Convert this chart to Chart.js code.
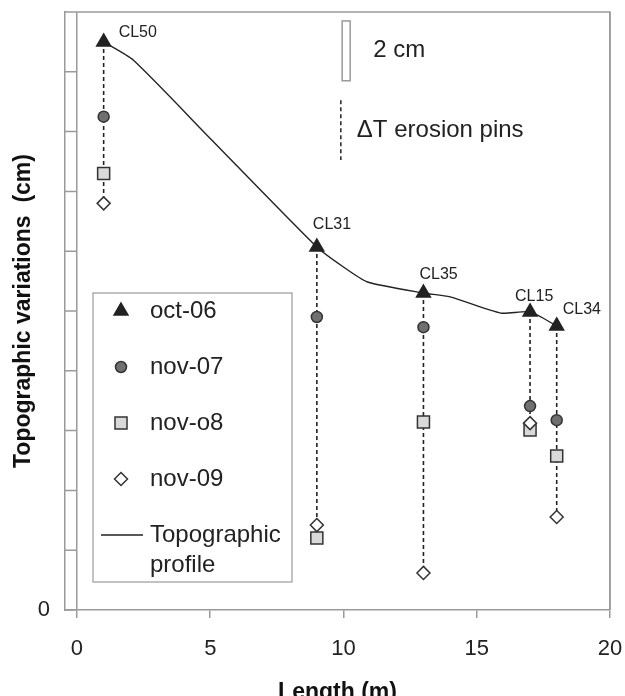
<!DOCTYPE html>
<html>
<head>
<meta charset="utf-8">
<script src="https://cdn.jsdelivr.net/npm/chart.js@4/dist/chart.umd.min.js"></script>
<style>
  html, body { margin: 0; padding: 0; background: #fff; overflow: hidden; }
  #wrap { position: relative; width: 625px; height: 708px; }
</style>
</head>
<body>
<div id="wrap"><canvas id="topo_chart"></canvas></div>
<script>
// stations along the transect
const stations = ['CL50', 'CL31', 'CL35', 'CL15', 'CL34'];
const lengths = [1, 9, 13, 17, 18];

// pin readings (cm)
const oct06 = [19.0, 12.14, 10.6, 9.97, 9.5];
const nov07 = [16.5, 9.8, 9.46, 6.82, 6.35];
const nov08 = [14.6, 2.41, 6.29, 6.02, 5.15];
const nov09 = [13.6, 2.84, 1.24, 6.25, 3.11];

// topographic profile
const profileX = [1, 2.1, 5, 9, 10, 10.9, 13, 14, 15.9, 17, 18];
const profileY = [19.0, 18.4, 15.77, 12.14, 11.47, 10.97, 10.6, 10.47, 9.93, 9.97, 9.5];

// axis ticks
const xTicks = [0, 5, 10, 15, 20];
const yTicks = [0, 2, 4, 6, 8, 10, 12, 14, 16, 18, 20];
const yTickLabels = ['0', '', '', '', '', '', '', '', '', '', ''];

const FONT = "'Liberation Sans', Arial, sans-serif";
const INK = '#222';
const AXIS = '#9a9a9a';

const pts = (xs, ys) => xs.map((x, i) => ({ x: x, y: ys[i] }));

// dashed pins: from oct-06 down to nov-09 reading
const pinData = [];
lengths.forEach((x, i) => {
    pinData.push({ x: x, y: oct06[i] }, { x: x, y: nov09[i] }, { x: x, y: null });
});

const series = [
    { label: 'oct-06', data: oct06, style: 'triangle', radius: 8, bg: '#222', border: '#222' },
    { label: 'nov-07', data: nov07, style: 'circle', radius: 5.5, bg: '#707070', border: '#333' },
    { label: 'nov-o8', data: nov08, style: 'rect', radius: 8.5, bg: '#d9d9d9', border: '#333' },
    { label: 'nov-09', data: nov09, style: 'rectRot', radius: 6.5, bg: '#fff', border: '#333' }
];

// frame, inner y ticks
const framePlugin = {
    id: 'frame',
    afterDraw(chart) {
        const ctx = chart.ctx, a = chart.chartArea;
        const xs = chart.scales.x, ys = chart.scales.y;
        ctx.save();
        ctx.strokeStyle = AXIS;
        ctx.lineWidth = 1.5;
        ctx.beginPath();
        ctx.moveTo(a.left, a.top);
        ctx.lineTo(a.right, a.top);
        ctx.lineTo(a.right, a.bottom);
        const x0 = xs.getPixelForValue(0);
        ys.ticks.forEach(t => {
            const py = ys.getPixelForValue(t.value);
            ctx.moveTo(a.left, py);
            ctx.lineTo(x0, py);
        });
        ctx.stroke();
        ctx.restore();
    }
};

// station names, scale bar, pins note, legend
const labelOffsets = [[15, -9], [-4, -22], [-4, -18], [-15, -15], [6, -16]];
const notesPlugin = {
    id: 'notes',
    afterDatasetsDraw(chart) {
        const ctx = chart.ctx, xs = chart.scales.x, ys = chart.scales.y;
        ctx.save();
        ctx.fillStyle = INK;
        ctx.font = '16px ' + FONT;
        ctx.textBaseline = 'middle';
        ctx.textAlign = 'left';
        stations.forEach((s, i) => {
            const px = xs.getPixelForValue(lengths[i]);
            const py = ys.getPixelForValue(oct06[i]);
            ctx.fillText(s, px + labelOffsets[i][0], py + labelOffsets[i][1]);
        });

        // 2 cm scale bar
        const bx0 = xs.getPixelForValue(9.95), bx1 = xs.getPixelForValue(10.25);
        const by0 = ys.getPixelForValue(19.7), by1 = ys.getPixelForValue(17.7);
        ctx.strokeStyle = AXIS;
        ctx.lineWidth = 1.5;
        ctx.strokeRect(bx0, by0, bx1 - bx0, by1 - by0);
        ctx.font = '24px ' + FONT;
        ctx.fillText('2 cm', bx1 + 23, (by0 + by1) / 2);

        // erosion pins sample
        const dx = xs.getPixelForValue(9.9);
        const dy0 = ys.getPixelForValue(17.05), dy1 = ys.getPixelForValue(15.05);
        ctx.strokeStyle = INK;
        ctx.setLineDash([4, 3]);
        ctx.beginPath();
        ctx.moveTo(dx, dy0);
        ctx.lineTo(dx, dy1);
        ctx.stroke();
        ctx.setLineDash([]);
        ctx.fillText('\u0394T erosion pins', dx + 16, (dy0 + dy1) / 2);

        // legend box
        const lx = 93, ly = 293, lw = 199, lh = 289;
        ctx.fillStyle = '#fff';
        ctx.fillRect(lx, ly, lw, lh);
        ctx.strokeStyle = AXIS;
        ctx.lineWidth = 1.2;
        ctx.strokeRect(lx, ly, lw, lh);
        ctx.font = '24px ' + FONT;
        series.forEach((s, i) => {
            const cy = ly + 18 + i * 56;
            ctx.fillStyle = s.bg;
            ctx.strokeStyle = s.border;
            ctx.lineWidth = 1.5;
            Chart.helpers.drawPoint(ctx, { pointStyle: s.style, radius: s.radius, rotation: 0, borderWidth: 1.5 }, lx + 28, cy);
            ctx.fillStyle = INK;
            ctx.fillText(s.label, lx + 57, cy);
        });
        const ty = ly + 18 + 4 * 56;
        ctx.strokeStyle = INK;
        ctx.lineWidth = 1.5;
        ctx.beginPath();
        ctx.moveTo(lx + 8, ty);
        ctx.lineTo(lx + 50, ty);
        ctx.stroke();
        ctx.fillText('Topographic', lx + 57, ty);
        ctx.fillText('profile', lx + 57, ty + 30);
        ctx.restore();
    }
};

const datasets = series.map((s, i) => ({
    label: s.label,
    data: pts(lengths, s.data),
    pointStyle: s.style,
    pointRadius: s.radius,
    pointBackgroundColor: s.bg,
    pointBorderColor: s.border,
    pointBorderWidth: 1.5,
    showLine: false,
    order: 4 - i
}));
datasets.push({
    label: 'Topographic profile',
    data: pts(profileX, profileY),
    showLine: true,
    borderColor: INK,
    borderWidth: 1.4,
    tension: 0.2,
    pointRadius: 0,
    order: 8
});
datasets.push({
    label: 'pins',
    data: pinData,
    showLine: true,
    spanGaps: false,
    borderColor: INK,
    borderWidth: 1.6,
    borderDash: [4, 3],
    pointRadius: 0,
    order: 9
});

const topo_chart = document.getElementById('topo_chart').getContext('2d');
new Chart(topo_chart, {
    type: 'scatter',
    data: { datasets: datasets },
    options: {
        responsive: true,
        maintainAspectRatio: false,
        animation: false,
        layout: { padding: { top: 12, right: 15, left: 0, bottom: 0 } },
        plugins: {
            legend: { display: false },
            tooltip: { enabled: false }
        },
        scales: {
            x: {
                type: 'linear',
                min: -0.45,
                max: 20,
                afterBuildTicks: scale => { scale.ticks = xTicks.map(v => ({ value: v })); },
                afterFit: scale => {
                    scale.height = 98;
                    scale.paddingLeft = 0;
                    scale.paddingRight = 0;
                },
                grid: {
                    color: c => (c.tick && (c.tick.value === 0 || c.tick.value === 20)) ? AXIS : 'rgba(0,0,0,0)',
                    tickColor: AXIS,
                    tickLength: 8,
                    lineWidth: 1.5
                },
                border: { color: AXIS, width: 1.5 },
                ticks: { color: INK, font: { family: FONT, size: 22 }, padding: 18, maxRotation: 0 },
                title: {
                    display: true,
                    text: 'Length (m)',
                    color: '#111',
                    font: { family: FONT, size: 23, weight: 'bold' },
                    padding: { top: 4, bottom: 2 }
                }
            },
            y: {
                type: 'linear',
                min: 0,
                max: 20,
                afterBuildTicks: scale => { scale.ticks = yTicks.map(v => ({ value: v })); },
                afterFit: scale => {
                    scale.width = 65;
                    scale.paddingTop = 0;
                    scale.paddingBottom = 0;
                },
                grid: { display: false, drawTicks: false },
                border: { color: AXIS, width: 1.5 },
                ticks: {
                    color: INK,
                    font: { family: FONT, size: 22 },
                    padding: 15,
                    callback: (v, i) => yTickLabels[i]
                },
                title: {
                    display: true,
                    text: 'Topographic variations  (cm)',
                    color: '#111',
                    font: { family: FONT, size: 23, weight: 'bold' },
                    padding: { top: 10, bottom: 0 }
                }
            }
        }
    },
    plugins: [framePlugin, notesPlugin]
});
</script>
</body>
</html>
